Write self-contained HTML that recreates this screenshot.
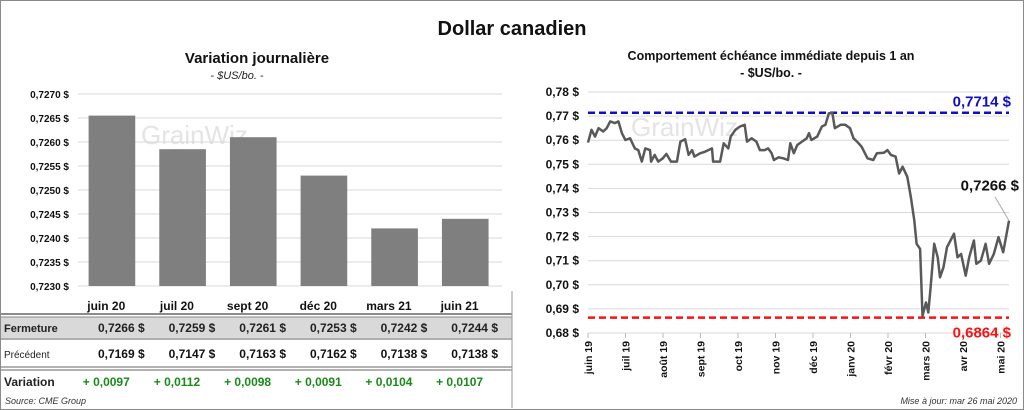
<!DOCTYPE html>
<html><head><meta charset="utf-8">
<style>
body{margin:0;background:#fff;font-family:"Liberation Sans",Arial,sans-serif;}
#wrap{position:relative;width:1022px;height:408px;border:1px solid #8a8a8a;overflow:hidden;}
svg text{font-family:"Liberation Sans",Arial,sans-serif;}
</style></head>
<body>
<div id="wrap">
<svg id="svg" width="1022" height="408" xmlns="http://www.w3.org/2000/svg">
<text x="511" y="34" text-anchor="middle" font-size="20" font-weight="bold" fill="#111">Dollar canadien</text>
<text x="256" y="62" text-anchor="middle" font-size="15" font-weight="bold" fill="#111">Variation  journalière</text>
<text x="236" y="78" text-anchor="middle" font-size="11" font-style="italic" fill="#222">- $US/bo. -</text>
<text x="770" y="59" text-anchor="middle" font-size="12.5" font-weight="bold" fill="#111">Comportement échéance immédiate depuis 1 an</text>
<text x="770" y="76" text-anchor="middle" font-size="12.5" font-weight="bold" fill="#111">- $US/bo. -</text>
<text x="140" y="143" font-size="26" fill="#e4e4e4">GrainWiz</text>
<text x="630" y="135" font-size="26" fill="#e4e4e4">GrainWiz</text>
<g id="left"></g>
<g id="right"></g>
<g id="table"></g>
<line x1="511" y1="290" x2="511" y2="407" stroke="#999"/>
<text x="4" y="403" font-size="9" font-style="italic" fill="#333">Source: CME Group</text>
<text x="1016" y="403" text-anchor="end" font-size="9" font-style="italic" fill="#333">Mise à jour: mar 26 mai 2020</text>
</svg>
</div>
<script>
const barCats=["juin 20","juil 20","sept 20","déc 20","mars 21","juin 21"];
const barVals=[0.72655,0.72585,0.7261,0.7253,0.7242,0.7244];
const leftTicks=[0.7230,0.7235,0.7240,0.7245,0.7250,0.7255,0.7260,0.7265,0.7270];
const closeVals=["0,7266","0,7259","0,7261","0,7253","0,7242","0,7244"];
const prevVals=["0,7169","0,7147","0,7163","0,7162","0,7138","0,7138"];
const varVals=["+ 0,0097","+ 0,0112","+ 0,0098","+ 0,0091","+ 0,0104","+ 0,0107"];
const lineDays=[0,3,6,9,13,16,19,23,26,29,32,36,40,43,46,49,53,54,57,60,64,67,71,76,79,83,86,89,91,96,100,106,107,113,116,120,122,126,130,134,136,140,144,147,151,154,157,159,163,167,171,173,176,179,183,187,189,191,196,200,203,206,209,211,216,220,224,227,230,234,239,244,247,253,256,259,263,266,269,273,276,279,281,284,286,289,291,293,296,299,301,304,307,310,313,316,319,323,326,330,332,336,340,343,347,351,355,360];
const lineVals=[0.7590,0.7643,0.7615,0.7650,0.7636,0.7650,0.7678,0.7671,0.7678,0.7629,0.7601,0.7608,0.7566,0.7559,0.7511,0.7566,0.7559,0.7511,0.7539,0.7511,0.7525,0.7543,0.7511,0.7511,0.7594,0.7604,0.7539,0.7559,0.7532,0.7546,0.7552,0.7566,0.7511,0.7511,0.7587,0.7566,0.7615,0.7643,0.7657,0.7664,0.7594,0.7608,0.7594,0.7559,0.7559,0.7566,0.7546,0.7518,0.7529,0.7525,0.7518,0.7587,0.7546,0.7580,0.7594,0.7608,0.7629,0.7601,0.7615,0.7657,0.7664,0.7712,0.7712,0.7650,0.7664,0.7664,0.7650,0.7608,0.7594,0.7573,0.7525,0.7518,0.7546,0.7548,0.7559,0.7539,0.7532,0.7462,0.7490,0.7448,0.7365,0.7267,0.7170,0.7149,0.6871,0.6927,0.6885,0.6989,0.7170,0.7114,0.7031,0.7073,0.7156,0.7184,0.7212,0.7114,0.7128,0.7038,0.7114,0.7184,0.7087,0.7100,0.7170,0.7087,0.7128,0.7198,0.7135,0.7266];
const rightTicks=[0.68,0.69,0.70,0.71,0.72,0.73,0.74,0.75,0.76,0.77,0.78];
const monthLabels=["juin 19","juil 19","août 19","sept 19","oct 19","nov 19","déc 19","janv 20","févr 20","mars 20","avr 20","mai 20"];
const highVal=0.7714, lowVal=0.6864, lastLabel="0,7266 $";

const NS="http://www.w3.org/2000/svg";
function mk(tag,attrs,parent,txt){const e=document.createElementNS(NS,tag);for(const k in attrs)e.setAttribute(k,attrs[k]);if(txt!==undefined)e.textContent=txt;parent.appendChild(e);return e;}
const fmt4=v=>v.toFixed(4).replace('.',',')+' $';
const fmt2=v=>v.toFixed(2).replace('.',',')+' $';

// LEFT bar chart
const L=document.getElementById('left');
const ly=v=>93+(0.7270-v)/0.0040*192;
const lx0=77,lx1=501,bw=(lx1-lx0)/barCats.length;
leftTicks.forEach(t=>{
 const g=mk('line',{x1:lx0,x2:lx1,y1:ly(t),y2:ly(t),stroke:'#d9d9d9'},L);
 
 const tx=mk('text',{x:68,y:ly(t)+4,'text-anchor':'end','font-size':10,'font-weight':'bold',fill:'#111'},L,fmt4(t));
 
});
barVals.forEach((v,i)=>{
 const x=lx0+bw*i+bw*0.15;
 const r=mk('rect',{x:x,y:ly(v),width:bw*0.66,height:ly(0.7230)-ly(v),fill:'#7f7f7f'},L);
 
});
// TABLE
const T=document.getElementById('table');
const bg=mk('rect',{x:0,y:316,width:511,height:23,fill:'#d9d9d9'},T);

[[313,1.5],[316,0.8],[338,0.8],[366,1],[369,1]].forEach(([y,w])=>{
 const l=mk('line',{x1:0,x2:511,y1:y,y2:y,stroke:'#666','stroke-width':w},T);
 
});
const rowLbl=[["Fermeture",331,11,'bold'],["Précédent",357,10,'normal'],["Variation",385,12,'bold']];
rowLbl.forEach(r=>{const t=mk('text',{x:3,y:r[1],'font-size':r[2],'font-weight':r[3],fill:'#222'},T,r[0]);
 });
barCats.forEach((c,i)=>{
 const cx=lx0+bw*i+bw*0.4;
 let t=mk('text',{x:cx,y:309,'text-anchor':'middle','font-size':12,'font-weight':'bold',fill:'#111'},T,c);
 
 const ex=lx0+bw*(i+1)-4;
 t=mk('text',{x:ex,y:331,'text-anchor':'end','font-size':12,'font-weight':'bold',fill:'#222','xml:space':'preserve'},T,closeVals[i]+'  $');
 
 t=mk('text',{x:ex,y:357,'text-anchor':'end','font-size':12,'font-weight':'bold',fill:'#111','xml:space':'preserve'},T,prevVals[i]+'  $');
 
 t=mk('text',{x:cx,y:385,'text-anchor':'middle','font-size':12,'font-weight':'bold',fill:'#1a8a1a'},T,varVals[i]);
 
});

// RIGHT line chart
const R=document.getElementById('right');
const ry=v=>332-(v-0.68)/0.10*241;
const rx0=587,rx1=1008;
const rx=d=>rx0+d*(rx1-rx0)/360;
rightTicks.forEach(t=>{
 const g=mk('line',{x1:rx0,x2:rx1,y1:ry(t),y2:ry(t),stroke:'#d9d9d9'},R);
 
 const tx=mk('text',{x:578,y:ry(t)+4,'text-anchor':'end','font-size':12,'font-weight':'bold',fill:'#111'},R,fmt2(t));
 
});
monthLabels.forEach((m,i)=>{
 const x=rx0+i*37.5;
 const tk=mk('line',{x1:x,x2:x,y1:332,y2:337,stroke:'#bbb'},R);
 
 const t=mk('text',{x:0,y:0,'text-anchor':'end','font-size':10.5,'font-weight':'bold',fill:'#111',transform:`translate(${x+4},340) rotate(-90)`},R,m);
 
});
const hl=mk('line',{x1:rx0,x2:rx1,y1:ry(highVal),y2:ry(highVal),stroke:'#1010c0','stroke-width':2.5,'stroke-dasharray':'7,4'},R);

const lo=mk('line',{x1:rx0,x2:rx1,y1:ry(lowVal),y2:ry(lowVal),stroke:'#ff1010','stroke-width':2.5,'stroke-dasharray':'7,4'},R);

let ht=mk('text',{x:1010,y:ry(highVal)-6,'text-anchor':'end','font-size':15,'font-weight':'bold',fill:'#1010c0'},R,fmt4(highVal));

let lt=mk('text',{x:1010,y:ry(lowVal)+20,'text-anchor':'end','font-size':15,'font-weight':'bold',fill:'#ff1010'},R,fmt4(lowVal));

const pts=lineDays.map((d,i)=>rx(d).toFixed(1)+','+ry(lineVals[i]).toFixed(1)).join(' ');
const pl=mk('polyline',{points:pts,fill:'none',stroke:'#595959','stroke-width':2.5,'stroke-linejoin':'round'},R);

const lx=rx(lineDays[lineDays.length-1]),lyv=ry(lineVals[lineVals.length-1]);
const ll=mk('line',{x1:lx,y1:lyv,x2:lx-14,y2:lyv-24,stroke:'#aaa'},R);

const lv=mk('text',{x:1018,y:lyv-30,'text-anchor':'end','font-size':15,'font-weight':'bold',fill:'#111'},R,lastLabel);

</script>
</body></html>
